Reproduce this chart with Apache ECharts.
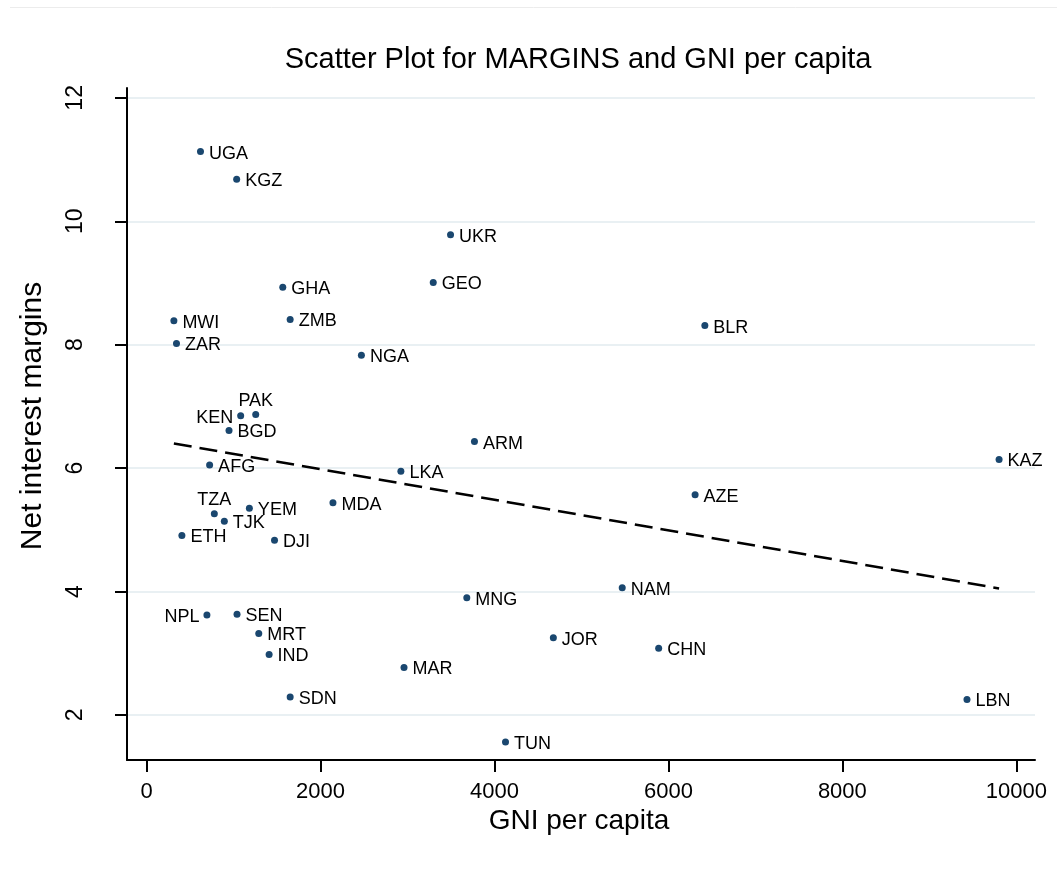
<!DOCTYPE html>
<html><head><meta charset="utf-8">
<script src="https://cdn.jsdelivr.net/npm/echarts@6/dist/echarts.min.js"></script>
<style>html,body{margin:0;padding:0;background:#fff}#c{width:1057px;height:869px}</style>
</head><body><div id="c"></div>
<script>
const countries = ['UGA','KGZ','UKR','GEO','GHA','MWI','ZMB','BLR','ZAR','NGA','PAK','KEN','BGD','ARM','KAZ','AFG','LKA','AZE','TZA','YEM','MDA','TJK','ETH','DJI','NAM','MNG','NPL','SEN','MRT','JOR','CHN','IND','MAR','SDN','LBN','TUN'];
const gniPerCapita = [620,1036,3495,3296,1566,314,1651,6419,344,2470,1255,1082,948,3770,9802,725,2924,6307,779,1182,2143,894,406,1471,5469,3682,694,1040,1290,4677,5888,1409,2960,1651,9433,4127];
const netInterestMargins = [11.13,10.68,9.78,9.01,8.93,8.39,8.41,8.31,8.02,7.83,6.87,6.85,6.61,6.43,6.14,6.05,5.95,5.57,5.26,5.35,5.44,5.14,4.91,4.83,4.06,3.90,3.62,3.63,3.32,3.25,3.08,2.98,2.77,2.29,2.25,1.56];
const fitGni = [314, 9802];
const fitMargins = [6.40, 4.05];
const xTicks = [0, 2000, 4000, 6000, 8000, 10000];
const yTicks = [2, 4, 6, 8, 10, 12];

const labelLeft = ['KEN', 'NPL'];
const labelTop = ['PAK', 'TZA'];

const FONT = '"Liberation Sans", Arial, Helvetica, sans-serif';
const chart = echarts.init(document.getElementById('c'), null, {renderer: 'canvas'});

const pointData = countries.map((c, i) => {
  const pos = labelLeft.includes(c) ? 'left' : (labelTop.includes(c) ? 'top' : 'right');
  return {
    name: c,
    value: [gniPerCapita[i], netInterestMargins[i]],
    label: {position: pos, distance: pos === 'top' ? 1 : (pos === 'left' ? 4 : 5), offset: pos === 'top' ? [0, 0] : [0, 2]}
  };
});

chart.setOption({
  animation: false,
  backgroundColor: '#ffffff',
  grid: {left: 127, right: 22, top: 88, bottom: 109, containLabel: false},
  xAxis: {
    type: 'value', min: -225, max: 10215,
    axisLine: {show: true, onZero: false, lineStyle: {color: '#000', width: 2}},
    axisTick: {show: true, length: 12, lineStyle: {color: '#000', width: 2}, customValues: xTicks},
    axisLabel: {show: true, customValues: xTicks, formatter: v => String(v), color: '#000', fontSize: 22, fontFamily: FONT, margin: 21},
    splitLine: {show: false}
  },
  yAxis: {
    type: 'value', min: 1.27, max: 12.16,
    axisLine: {show: true, onZero: false, lineStyle: {color: '#000', width: 2}},
    axisTick: {show: true, length: 12, lineStyle: {color: '#000', width: 2}, customValues: yTicks},
    axisLabel: {show: true, customValues: yTicks, formatter: v => String(v), rotate: 90, color: '#000', fontSize: 23, fontFamily: FONT, margin: 40},
    splitLine: {show: false}
  },
  graphic: [
    {type: 'line', z: 0, shape: {x1: 10, y1: 7.5, x2: 1057, y2: 7.5}, style: {stroke: '#ececec', lineWidth: 1}, silent: true},
    {type: 'text', x: 578, y: 60, style: {text: 'Scatter Plot for MARGINS and GNI per capita', fontSize: 29, fontFamily: FONT, fill: '#000', textAlign: 'center', textVerticalAlign: 'middle'}},
    {type: 'text', x: 579, y: 821, style: {text: 'GNI per capita', fontSize: 28, fontFamily: FONT, fill: '#000', textAlign: 'center', textVerticalAlign: 'middle'}},
    {type: 'text', x: 33, y: 416, rotation: Math.PI / 2, style: {text: 'Net interest margins', fontSize: 30, fontFamily: FONT, fill: '#000', textAlign: 'center', textVerticalAlign: 'middle'}}
  ],
  series: [
    {
      type: 'line', data: [], silent: true, z: 0, symbol: 'none',
      markLine: {
        z: 0, silent: true, symbol: 'none', animation: false,
        label: {show: false},
        lineStyle: {color: '#e9f0f3', width: 2, type: 'solid'},
        emphasis: {disabled: true},
        data: yTicks.map(v => ({yAxis: v}))
      }
    },
    {
      type: 'line', z: 3, silent: true, symbol: 'none',
      data: fitGni.map((g, i) => [g, fitMargins[i]]),
      lineStyle: {color: '#000', width: 2.5, type: [18, 8]}
    },
    {
      type: 'scatter', z: 4, symbol: 'circle', symbolSize: 7,
      itemStyle: {color: '#1a476f', opacity: 1},
      label: {show: true, formatter: '{b}', color: '#000', fontSize: 18, fontFamily: FONT},
      data: pointData
    }
  ]
});
</script></body></html>
